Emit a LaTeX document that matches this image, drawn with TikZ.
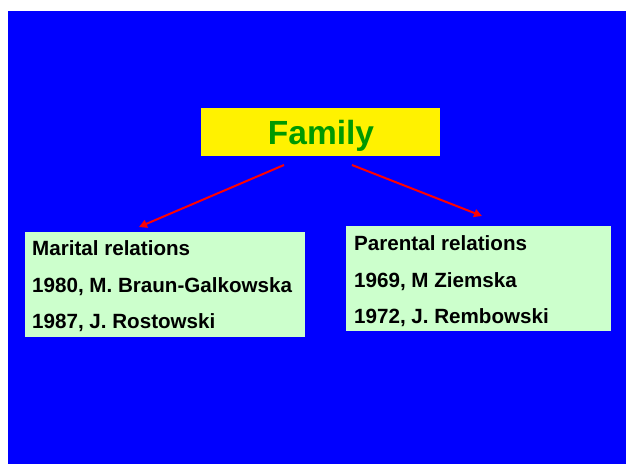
\documentclass[tikz,border=0pt]{standalone}
\usepackage{fontspec}
\setmainfont{Liberation Sans}
\usetikzlibrary{arrows.meta}
\definecolor{bgblue}{HTML}{0000FF}
\definecolor{famgreen}{HTML}{009900}
\definecolor{boxgreen}{HTML}{CCFFCC}
\begin{document}
\begin{tikzpicture}[x=1pt,y=-1pt,
  infobox/.style={fill=boxgreen,draw=none,inner sep=0pt,anchor=north west},
  infotext/.style={font=\bfseries\fontsize{20.6}{24}\selectfont,anchor=base west,inner sep=0pt},
  link/.style={draw=red,line width=2pt,-{Triangle[length=8pt,width=8pt]}}]
\useasboundingbox (0,0) rectangle (626,464);
\fill[bgblue] (8,11) rectangle (626,464);
\node[fill=yellow,minimum width=239pt,minimum height=48pt,inner sep=0pt,anchor=north west] (fam) at (201,108) {};
\node[text=famgreen,font=\bfseries\fontsize{33.5}{38}\selectfont,anchor=base,inner sep=0pt] (famtext) at (321,144) {Family};
\node[infobox,minimum width=280pt,minimum height=105pt] (left) at (25,232) {};
\node[infobox,minimum width=265pt,minimum height=105pt] (right) at (346,226) {};
\node[infotext] (l1) at (32,255) {Marital relations};
\node[infotext] (l2) at (32,292) {1980, M. Braun-Galkowska};
\node[infotext] (l3) at (32,328) {1987, J. Rostowski};
\node[infotext] (r1) at (354,250) {Parental relations};
\node[infotext] (r2) at (354,287) {1969, M Ziemska};
\node[infotext] (r3) at (354,323) {1972, J. Rembowski};
\coordinate (ls) at (284,165);
\coordinate (le) at (139,227);
\coordinate (rs) at (352,165);
\coordinate (re) at (482,216);
\draw[link] (ls) -- (le);
\draw[link] (rs) -- (re);
\end{tikzpicture}
\end{document}
